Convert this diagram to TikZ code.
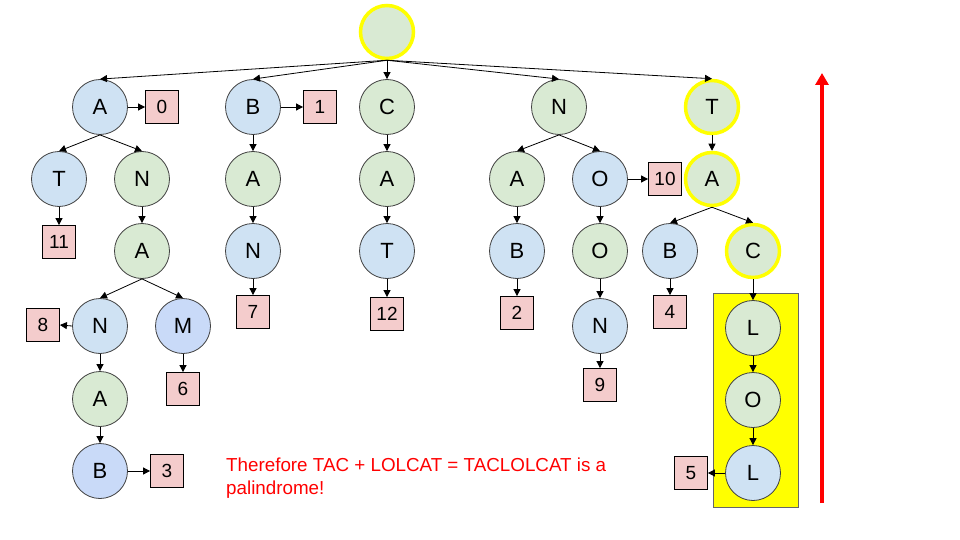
\documentclass[tikz,border=0pt]{standalone}
\usepackage{fontspec}
\setmainfont{Liberation Sans}
\usetikzlibrary{arrows.meta}
\definecolor{nblue}{HTML}{CFE2F3}
\definecolor{mblue}{HTML}{C9DAF8}
\definecolor{ngreen}{HTML}{D9EAD3}
\definecolor{bpink}{HTML}{F4CCCC}
\definecolor{ylw}{HTML}{FFFF00}
\definecolor{rd}{HTML}{FF0000}
\tikzset{
  circ/.style={circle, draw=black!75, line width=0.8pt, minimum size=55pt, inner sep=0pt, font=\fontsize{22}{22}\selectfont},
  bl/.style={circ, fill=nblue},
  bm/.style={circ, fill=mblue},
  gr/.style={circ, fill=ngreen},
  hl/.style={circ, fill=ngreen, draw=ylw, line width=3.5pt, minimum size=53pt},
  bx/.style={rectangle, draw=black, line width=0.8pt, fill=bpink, minimum size=33pt, inner sep=1pt, font=\fontsize{19}{19}\selectfont},
  ed/.style={draw=black, line width=0.8pt, -{Triangle[length=7pt,width=7pt]}},
}
\begin{document}
\begin{tikzpicture}[x=1pt,y=-1pt]
\useasboundingbox (0,0) rectangle (960,540);
% highlight rectangle
\node[draw=black!60, fill=ylw, line width=0.8pt, minimum width=85pt, minimum height=214pt, inner sep=0pt] (hlbox) at (755.5,400) {};
% nodes
\node[hl] (root) at (387,32) {};
\node[bl] (a1) at (100,107) {A};
\node[bx] (box0) at (162,107) {0};
\node[bl] (b1) at (253,107) {B};
\node[bx] (box1) at (320,107) {1};
\node[gr] (c1) at (387,107) {C};
\node[gr] (n1) at (559,107) {N};
\node[hl] (t1) at (712,107) {T};
\node[bl] (t2) at (59,179) {T};
\node[gr] (n2) at (142,179) {N};
\node[gr] (a2b) at (253,179) {A};
\node[gr] (a2c) at (387,179) {A};
\node[gr] (a2n) at (517,179) {A};
\node[bl] (o2) at (600,179) {O};
\node[bx] (box10) at (665,179) {10};
\node[hl] (a2t) at (712,179) {A};
\node[bx] (box11) at (59,242) {11};
\node[gr] (a3) at (142,251) {A};
\node[bl] (n3b) at (253,251) {N};
\node[bl] (t3c) at (387,251) {T};
\node[bl] (b3n) at (517,251) {B};
\node[gr] (o3) at (600,251) {O};
\node[bl] (b3t) at (670,251) {B};
\node[hl] (c3t) at (753,251) {C};
\node[bl] (n4) at (100,326) {N};
\node[bm] (m4) at (183,326) {M};
\node[bx] (box8) at (43,325) {8};
\node[bx] (box7) at (253,312) {7};
\node[bx] (box12) at (387,314) {12};
\node[bx] (box2) at (517,313) {2};
\node[bl] (n4o) at (600,326) {N};
\node[bx] (box4) at (670,312) {4};
\node[gr] (l4) at (753,328) {L};
\node[gr] (a5) at (100,399) {A};
\node[bx] (box6) at (183,389) {6};
\node[bx] (box9) at (600,385) {9};
\node[gr] (o5) at (753,400) {O};
\node[bm] (b6) at (100,471) {B};
\node[bx] (box3) at (167,471) {3};
\node[bl] (l6) at (753,473) {L};
\node[bx] (box5) at (691,473) {5};
% edges
\foreach \c in {a1,b1,c1,n1,t1} \draw[ed] (root.south) -- (\c.north);
\draw[ed] (a1.east) -- (box0.west);
\draw[ed] (b1.east) -- (box1.west);
\draw[ed] (a1.south) -- (t2.north);
\draw[ed] (a1.south) -- (n2.north);
\draw[ed] (b1) -- (a2b);
\draw[ed] (c1) -- (a2c);
\draw[ed] (n1.south) -- (a2n.north);
\draw[ed] (n1.south) -- (o2.north);
\draw[ed] (t1) -- (a2t);
\draw[ed] (o2.east) -- (box10.west);
\draw[ed] (t2) -- (box11);
\draw[ed] (n2) -- (a3);
\draw[ed] (a2b) -- (n3b);
\draw[ed] (a2c) -- (t3c);
\draw[ed] (a2n) -- (b3n);
\draw[ed] (o2) -- (o3);
\draw[ed] (a2t.south) -- (b3t.north);
\draw[ed] (a2t.south) -- (c3t.north);
\draw[ed] (a3.south) -- (n4.north);
\draw[ed] (a3.south) -- (m4.north);
\draw[ed] (n4.west) -- (box8.east);
\draw[ed] (n3b) -- (box7);
\draw[ed] (t3c) -- (box12);
\draw[ed] (b3n) -- (box2);
\draw[ed] (o3) -- (n4o);
\draw[ed] (b3t) -- (box4);
\draw[ed] (c3t) -- (l4);
\draw[ed] (n4) -- (a5);
\draw[ed] (m4) -- (box6);
\draw[ed] (n4o) -- (box9);
\draw[ed] (l4) -- (o5);
\draw[ed] (a5) -- (b6);
\draw[ed] (b6.east) -- (box3.west);
\draw[ed] (o5) -- (l6);
\draw[ed] (l6.west) -- (box5.east);
% red arrow
\coordinate (rs) at (822,503);
\coordinate (re) at (822,73);
\draw[rd, line width=4pt, -{Triangle[length=12pt,width=13pt]}] (rs) -- (re);
% text
\node[anchor=base west, inner sep=0pt, text=rd, font=\fontsize{18.8}{23}\selectfont] (t1line) at (226,471) {Therefore TAC + LOLCAT = TACLOLCAT is a};
\node[anchor=base west, inner sep=0pt, text=rd, font=\fontsize{18.8}{23}\selectfont] (t2line) at (226,494) {palindrome!};
\end{tikzpicture}
\end{document}
